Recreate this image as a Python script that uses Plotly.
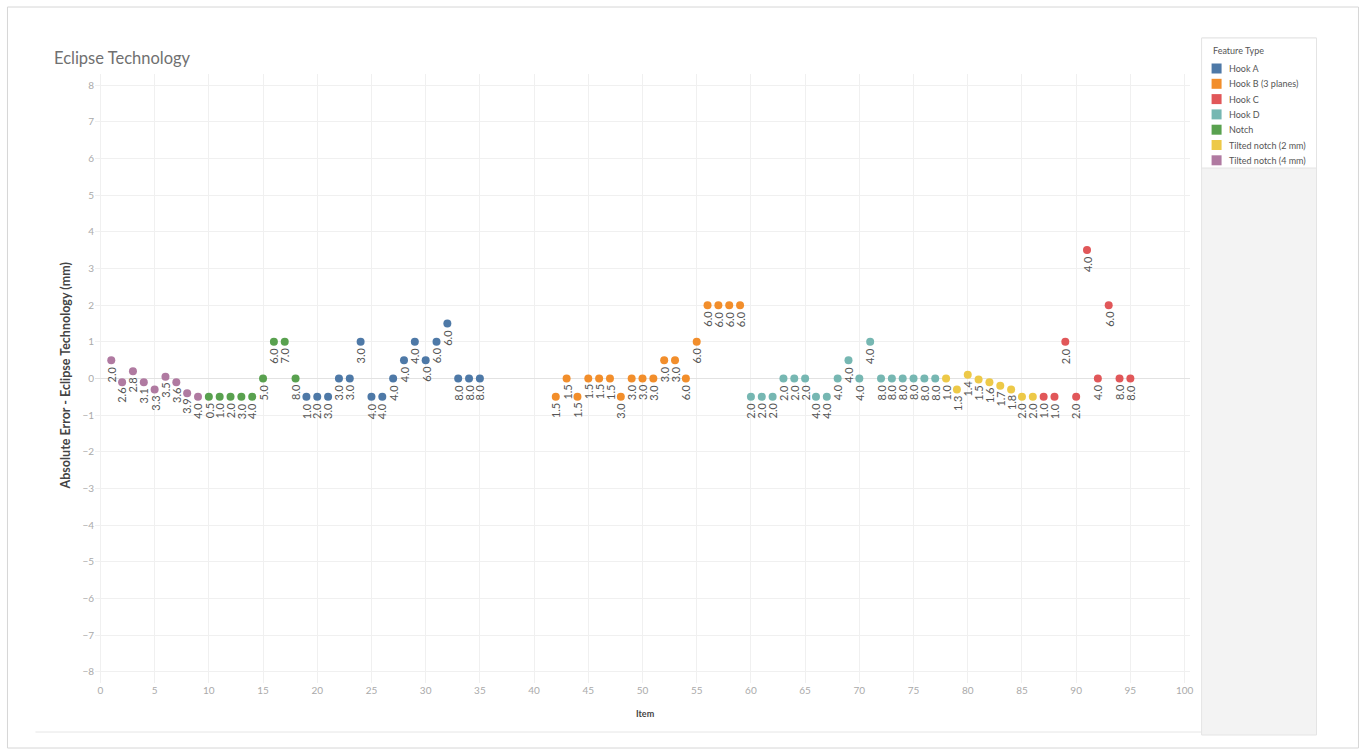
import plotly.graph_objects as go

# ---------------- data ----------------
feature_types = ["Hook A", "Hook B (3 planes)", "Hook C", "Hook D", "Notch",
                 "Tilted notch (2 mm)", "Tilted notch (4 mm)"]
colors = ["#4E79A7", "#F28E2B", "#E15759", "#76B7B2", "#59A14F", "#EDC948", "#B07AA1"]

tilted4_items = [1, 2, 3, 4, 5, 6, 7, 8, 9]
tilted4_err = [0.5, -0.1, 0.2, -0.1, -0.3, 0.05, -0.1, -0.4, -0.5]
tilted4_lab = ["2.0", "2.6", "2.8", "3.1", "3.3", "3.5", "3.6", "3.9", "4.0"]

notch_items = [10, 11, 12, 13, 14, 15, 16, 17, 18]
notch_err = [-0.5, -0.5, -0.5, -0.5, -0.5, 0, 1, 1, 0]
notch_lab = ["0.5", "1.0", "2.0", "3.0", "4.0", "5.0", "6.0", "7.0", "8.0"]

hookA_items = [19, 20, 21, 22, 23, 24, 25, 26, 27, 28, 29, 30, 31, 32, 33, 34, 35]
hookA_err = [-0.5, -0.5, -0.5, 0, 0, 1, -0.5, -0.5, 0, 0.5, 1, 0.5, 1, 1.5, 0, 0, 0]
hookA_lab = ["1.0", "2.0", "3.0", "3.0", "3.0", "3.0", "4.0", "4.0", "4.0", "4.0",
             "4.0", "6.0", "6.0", "6.0", "8.0", "8.0", "8.0"]

hookB_items = [42, 43, 44, 45, 46, 47, 48, 49, 50, 51, 52, 53, 54, 55, 56, 57, 58, 59]
hookB_err = [-0.5, 0, -0.5, 0, 0, 0, -0.5, 0, 0, 0, 0.5, 0.5, 0, 1, 2, 2, 2, 2]
hookB_lab = ["1.5", "1.5", "1.5", "1.5", "1.5", "1.5", "3.0", "3.0", "3.0", "3.0",
             "3.0", "3.0", "6.0", "6.0", "6.0", "6.0", "6.0", "6.0"]

hookD_items = [60, 61, 62, 63, 64, 65, 66, 67, 68, 69, 70, 71, 72, 73, 74, 75, 76, 77]
hookD_err = [-0.5, -0.5, -0.5, 0, 0, 0, -0.5, -0.5, 0, 0.5, 0, 1, 0, 0, 0, 0, 0, 0]
hookD_lab = ["2.0", "2.0", "2.0", "2.0", "2.0", "2.0", "4.0", "4.0", "4.0", "4.0",
             "4.0", "4.0", "8.0", "8.0", "8.0", "8.0", "8.0", "8.0"]

tilted2_items = [78, 79, 80, 81, 82, 83, 84, 85, 86]
tilted2_err = [0, -0.3, 0.1, -0.03, -0.1, -0.2, -0.3, -0.5, -0.5]
tilted2_lab = ["1.0", "1.3", "1.4", "1.5", "1.6", "1.7", "1.8", "2.0", "2.0"]

hookC_items = [87, 88, 89, 90, 91, 92, 93, 94, 95]
hookC_err = [-0.5, -0.5, 1, -0.5, 3.5, 0, 2, 0, 0]
hookC_lab = ["1.0", "1.0", "2.0", "2.0", "4.0", "4.0", "6.0", "8.0", "8.0"]

x_ticks = [0, 5, 10, 15, 20, 25, 30, 35, 40, 45, 50, 55, 60, 65, 70, 75, 80, 85, 90, 95, 100]
y_ticks = [-8, -7, -6, -5, -4, -3, -2, -1, 0, 1, 2, 3, 4, 5, 6, 7, 8]

series = {
    "Hook A": (hookA_items, hookA_err, hookA_lab),
    "Hook B (3 planes)": (hookB_items, hookB_err, hookB_lab),
    "Hook C": (hookC_items, hookC_err, hookC_lab),
    "Hook D": (hookD_items, hookD_err, hookD_lab),
    "Notch": (notch_items, notch_err, notch_lab),
    "Tilted notch (2 mm)": (tilted2_items, tilted2_err, tilted2_lab),
    "Tilted notch (4 mm)": (tilted4_items, tilted4_err, tilted4_lab),
}

# ---------------- layout geometry ----------------
W, H = 1366, 751
ML, MR, MT, MB = 94.6, 175.6, 74, 68
PW = W - ML - MR
PH = H - MT - MB


def px(x):
    return (x - ML) / PW


def py(y):
    return (H - MB - y) / PH


fig = go.Figure()
annotations = []
font_fam = "Lato, 'Open Sans', sans-serif"

for name, color in zip(feature_types, colors):
    xs, ys, labs = series[name]
    fig.add_trace(go.Scatter(
        x=xs, y=ys, mode="markers", name=name, showlegend=False,
        marker=dict(color=color, size=8, line=dict(width=0)),
        hovertemplate="Item %{x}<br>%{y}<extra>" + name + "</extra>",
    ))
    for xv, yv, lb in zip(xs, ys, labs):
        annotations.append(dict(
            x=xv, y=yv, xref="x", yref="y", text=lb, showarrow=False,
            textangle=-90, yanchor="top", xanchor="center", yshift=-4,
            font=dict(size=11, color="#555555", family=font_fam),
        ))

shapes = [
    # page frame
    dict(type="rect", xref="paper", yref="paper", x0=px(7), x1=px(1359),
         y0=py(748), y1=py(7), line=dict(color="#d6d6d6", width=1),
         fillcolor="rgba(0,0,0,0)", layer="below"),
    # right gray panel
    dict(type="rect", xref="paper", yref="paper", x0=px(1202), x1=px(1317),
         y0=py(735), y1=py(38), line=dict(color="#e4e4e4", width=1),
         fillcolor="#f3f3f3", layer="below"),
    # legend box
    dict(type="rect", xref="paper", yref="paper", x0=px(1202), x1=px(1317),
         y0=py(168), y1=py(38), line=dict(color="#e4e4e4", width=1),
         fillcolor="#ffffff", layer="below"),
    # bottom line under plot area
    dict(type="line", xref="paper", yref="paper", x0=px(35), x1=px(1202),
         y0=py(732), y1=py(732), line=dict(color="#e6e6e6", width=1),
         layer="below"),
]

# manual legend (Tableau style, compact rows)
annotations.append(dict(x=px(1211), y=py(50), xref="paper", yref="paper",
                        text="Feature Type", showarrow=False,
                        xanchor="left", yanchor="middle",
                        font=dict(size=9, color="#555555", family=font_fam)))
row0, row_step = 68.5, 15.3
for i, (name, color) in enumerate(zip(feature_types, colors)):
    yc = row0 + i * row_step
    shapes.append(dict(type="rect", xref="paper", yref="paper",
                       x0=px(1212), x1=px(1222), y0=py(yc + 5), y1=py(yc - 5),
                       fillcolor=color, line=dict(width=0)))
    annotations.append(dict(x=px(1227), y=py(yc), xref="paper", yref="paper",
                            text=name, showarrow=False,
                            xanchor="left", yanchor="middle",
                            font=dict(size=9, color="#555555", family=font_fam)))

# titles
annotations.append(dict(x=px(52), y=py(58), xref="paper", yref="paper",
                        text="Eclipse Technology", showarrow=False,
                        xanchor="left", yanchor="middle",
                        font=dict(size=16.5, color="#707070", family=font_fam)))
annotations.append(dict(x=px(66), y=py(376), xref="paper", yref="paper",
                        text="<b>Absolute Error - Eclipse Technology (mm)</b>",
                        showarrow=False, textangle=-90,
                        xanchor="center", yanchor="middle",
                        font=dict(size=12.5, color="#444444", family=font_fam)))
annotations.append(dict(x=px(646), y=py(713), xref="paper", yref="paper",
                        text="<b>Item</b>", showarrow=False,
                        xanchor="center", yanchor="middle",
                        font=dict(size=9, color="#444444", family=font_fam)))

fig.update_layout(
    width=W, height=H,
    margin=dict(l=ML, r=MR, t=MT, b=MB, autoexpand=False),
    paper_bgcolor="white", plot_bgcolor="white",
    font=dict(family=font_fam, color="#999999"),
    showlegend=False,
    xaxis=dict(range=[-0.5, 100.5], tickvals=x_ticks, showgrid=True,
               gridcolor="#f0f0f0", gridwidth=1, zeroline=False, showline=False,
               ticks="", tickfont=dict(size=10, color="#aaaaaa")),
    yaxis=dict(range=[-8.3, 8.3], tickvals=y_ticks, showgrid=True,
               gridcolor="#f0f0f0", gridwidth=1, zeroline=True,
               zerolinecolor="#e2e2e2", zerolinewidth=1, showline=False,
               ticks="", tickfont=dict(size=10, color="#aaaaaa")),
    annotations=annotations,
    shapes=shapes,
)

fig.write_html("out.html")
